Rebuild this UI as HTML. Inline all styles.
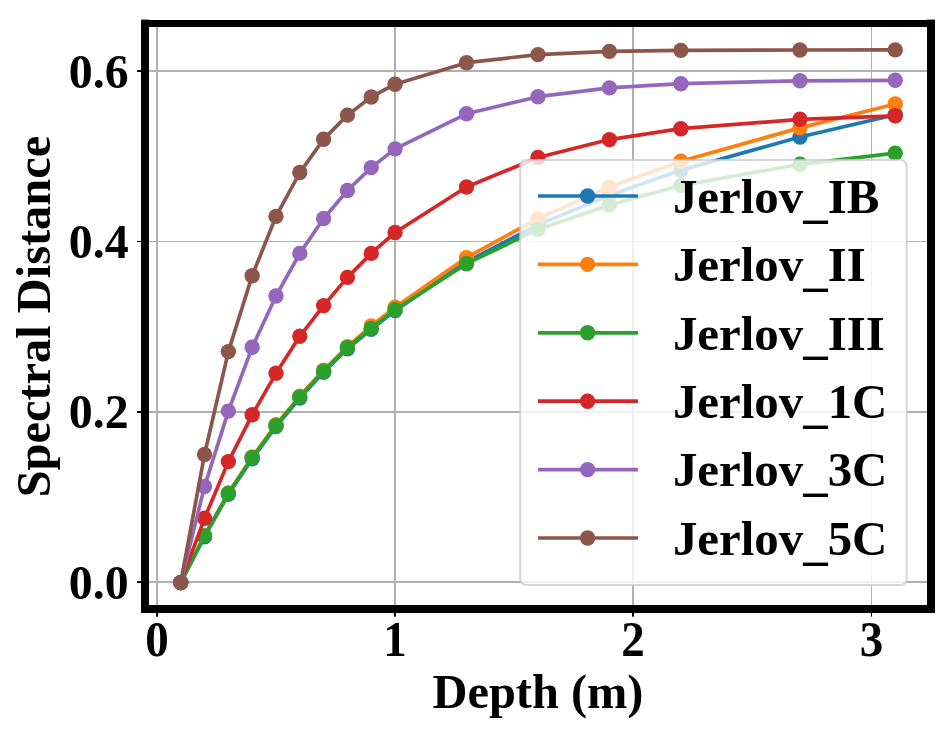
<!DOCTYPE html>
<html lang="en">
<head>
<meta charset="utf-8">
<title>Spectral Distance vs Depth</title>
<style>
html,body{margin:0;padding:0;background:#fff;}
body{width:947px;height:734px;overflow:hidden;}
svg{display:block;}
svg text{font-family:"Liberation Serif","Times New Roman",serif;font-weight:bold;fill:#000;}
</style>
</head>
<body>
<svg width="947" height="734" viewBox="0 0 947 734">
<rect x="0" y="0" width="947" height="734" fill="#ffffff"/>
<g fill="#b0b0b0">
<rect x="156" y="27" width="2" height="578"/>
<rect x="394" y="27" width="2" height="578"/>
<rect x="632" y="27" width="2" height="578"/>
<rect x="871" y="27" width="1" height="578"/>
<rect x="149" y="70" width="778" height="2"/>
<rect x="149" y="241" width="778" height="1"/>
<rect x="149" y="411" width="778" height="2"/>
<rect x="149" y="581" width="778" height="2"/>
</g>
<g fill="#000">
<rect x="156" y="612" width="2" height="4.7"/>
<rect x="394" y="612" width="2" height="4.7"/>
<rect x="632" y="612" width="2" height="4.7"/>
<rect x="871" y="612" width="1" height="4.7"/>
<rect x="137.1" y="70" width="5" height="2"/>
<rect x="137.1" y="241" width="5" height="1"/>
<rect x="137.1" y="411" width="5" height="2"/>
<rect x="137.1" y="581" width="5" height="2"/>
</g>
<clipPath id="ax"><rect x="145.0" y="23.4" width="786.0" height="585.4"/></clipPath>
<g clip-path="url(#ax)">
<polyline points="180.72,582.6 204.53,536.7 228.35,494.4 252.17,458.8 275.99,426.6 299.8,398.1 323.62,372.3 347.44,348.8 371.25,329.2 395.07,310.6 466.52,261.9 537.97,224.9 609.42,195.36 680.87,170.24 799.96,136.96 895.23,114.7" fill="none" stroke="#1f77b4" stroke-width="3.7" stroke-linejoin="round" stroke-linecap="butt"/>
<g fill="#1f77b4"><circle cx="180.72" cy="582.6" r="7.7"/><circle cx="204.53" cy="536.7" r="7.7"/><circle cx="228.35" cy="494.4" r="7.7"/><circle cx="252.17" cy="458.8" r="7.7"/><circle cx="275.99" cy="426.6" r="7.7"/><circle cx="299.8" cy="398.1" r="7.7"/><circle cx="323.62" cy="372.3" r="7.7"/><circle cx="347.44" cy="348.8" r="7.7"/><circle cx="371.25" cy="329.2" r="7.7"/><circle cx="395.07" cy="310.6" r="7.7"/><circle cx="466.52" cy="261.9" r="7.7"/><circle cx="537.97" cy="224.9" r="7.7"/><circle cx="609.42" cy="195.36" r="7.7"/><circle cx="680.87" cy="170.24" r="7.7"/><circle cx="799.96" cy="136.96" r="7.7"/><circle cx="895.23" cy="114.7" r="7.7"/></g>
<polyline points="180.72,582.6 204.53,535.4 228.35,492.9 252.17,457.0 275.99,424.6 299.8,396.1 323.62,370.1 347.44,346.6 371.25,326.0 395.07,307.3 466.52,257.6 537.97,218.6 609.42,187.09 680.87,161.27 799.96,127.9 895.23,104.0" fill="none" stroke="#ff7f0e" stroke-width="3.7" stroke-linejoin="round" stroke-linecap="butt"/>
<g fill="#ff7f0e"><circle cx="180.72" cy="582.6" r="7.7"/><circle cx="204.53" cy="535.4" r="7.7"/><circle cx="228.35" cy="492.9" r="7.7"/><circle cx="252.17" cy="457.0" r="7.7"/><circle cx="275.99" cy="424.6" r="7.7"/><circle cx="299.8" cy="396.1" r="7.7"/><circle cx="323.62" cy="370.1" r="7.7"/><circle cx="347.44" cy="346.6" r="7.7"/><circle cx="371.25" cy="326.0" r="7.7"/><circle cx="395.07" cy="307.3" r="7.7"/><circle cx="466.52" cy="257.6" r="7.7"/><circle cx="537.97" cy="218.6" r="7.7"/><circle cx="609.42" cy="187.09" r="7.7"/><circle cx="680.87" cy="161.27" r="7.7"/><circle cx="799.96" cy="127.9" r="7.7"/><circle cx="895.23" cy="104.0" r="7.7"/></g>
<polyline points="180.72,582.6 204.53,535.9 228.35,493.5 252.17,457.8 275.99,425.6 299.8,397.1 323.62,371.3 347.44,347.8 371.25,328.4 395.07,309.8 466.52,263.7 537.97,229.4 609.42,205.0 680.87,185.57 799.96,164.29 895.23,153.2" fill="none" stroke="#2ca02c" stroke-width="3.7" stroke-linejoin="round" stroke-linecap="butt"/>
<g fill="#2ca02c"><circle cx="180.72" cy="582.6" r="7.7"/><circle cx="204.53" cy="535.9" r="7.7"/><circle cx="228.35" cy="493.5" r="7.7"/><circle cx="252.17" cy="457.8" r="7.7"/><circle cx="275.99" cy="425.6" r="7.7"/><circle cx="299.8" cy="397.1" r="7.7"/><circle cx="323.62" cy="371.3" r="7.7"/><circle cx="347.44" cy="347.8" r="7.7"/><circle cx="371.25" cy="328.4" r="7.7"/><circle cx="395.07" cy="309.8" r="7.7"/><circle cx="466.52" cy="263.7" r="7.7"/><circle cx="537.97" cy="229.4" r="7.7"/><circle cx="609.42" cy="205.0" r="7.7"/><circle cx="680.87" cy="185.57" r="7.7"/><circle cx="799.96" cy="164.29" r="7.7"/><circle cx="895.23" cy="153.2" r="7.7"/></g>
<polyline points="180.72,582.6 204.53,518.3 228.35,461.6 252.17,414.8 275.99,373.3 299.8,336.3 323.62,305.6 347.44,277.4 371.25,253.4 395.07,232.5 466.52,186.99 537.97,157.54 609.42,139.58 680.87,128.7 799.96,119.3 895.23,115.8" fill="none" stroke="#d62728" stroke-width="3.7" stroke-linejoin="round" stroke-linecap="butt"/>
<g fill="#d62728"><circle cx="180.72" cy="582.6" r="7.7"/><circle cx="204.53" cy="518.3" r="7.7"/><circle cx="228.35" cy="461.6" r="7.7"/><circle cx="252.17" cy="414.8" r="7.7"/><circle cx="275.99" cy="373.3" r="7.7"/><circle cx="299.8" cy="336.3" r="7.7"/><circle cx="323.62" cy="305.6" r="7.7"/><circle cx="347.44" cy="277.4" r="7.7"/><circle cx="371.25" cy="253.4" r="7.7"/><circle cx="395.07" cy="232.5" r="7.7"/><circle cx="466.52" cy="186.99" r="7.7"/><circle cx="537.97" cy="157.54" r="7.7"/><circle cx="609.42" cy="139.58" r="7.7"/><circle cx="680.87" cy="128.7" r="7.7"/><circle cx="799.96" cy="119.3" r="7.7"/><circle cx="895.23" cy="115.8" r="7.7"/></g>
<polyline points="180.72,582.6 204.53,486.5 228.35,411.1 252.17,347.3 275.99,296.0 299.8,253.4 323.62,218.5 347.44,190.52 371.25,167.62 395.07,148.86 466.52,113.8 537.97,96.7 609.42,87.9 680.87,83.7 799.96,80.8 895.23,80.3" fill="none" stroke="#9467bd" stroke-width="3.7" stroke-linejoin="round" stroke-linecap="butt"/>
<g fill="#9467bd"><circle cx="180.72" cy="582.6" r="7.7"/><circle cx="204.53" cy="486.5" r="7.7"/><circle cx="228.35" cy="411.1" r="7.7"/><circle cx="252.17" cy="347.3" r="7.7"/><circle cx="275.99" cy="296.0" r="7.7"/><circle cx="299.8" cy="253.4" r="7.7"/><circle cx="323.62" cy="218.5" r="7.7"/><circle cx="347.44" cy="190.52" r="7.7"/><circle cx="371.25" cy="167.62" r="7.7"/><circle cx="395.07" cy="148.86" r="7.7"/><circle cx="466.52" cy="113.8" r="7.7"/><circle cx="537.97" cy="96.7" r="7.7"/><circle cx="609.42" cy="87.9" r="7.7"/><circle cx="680.87" cy="83.7" r="7.7"/><circle cx="799.96" cy="80.8" r="7.7"/><circle cx="895.23" cy="80.3" r="7.7"/></g>
<polyline points="180.72,582.6 204.53,454.5 228.35,351.6 252.17,275.7 275.99,216.4 299.8,172.56 323.62,139.28 347.44,115.1 371.25,97.0 395.07,84.2 466.52,62.7 537.97,54.6 609.42,51.4 680.87,50.4 799.96,50.0 895.23,49.9" fill="none" stroke="#8c564b" stroke-width="3.7" stroke-linejoin="round" stroke-linecap="butt"/>
<g fill="#8c564b"><circle cx="180.72" cy="582.6" r="7.7"/><circle cx="204.53" cy="454.5" r="7.7"/><circle cx="228.35" cy="351.6" r="7.7"/><circle cx="252.17" cy="275.7" r="7.7"/><circle cx="275.99" cy="216.4" r="7.7"/><circle cx="299.8" cy="172.56" r="7.7"/><circle cx="323.62" cy="139.28" r="7.7"/><circle cx="347.44" cy="115.1" r="7.7"/><circle cx="371.25" cy="97.0" r="7.7"/><circle cx="395.07" cy="84.2" r="7.7"/><circle cx="466.52" cy="62.7" r="7.7"/><circle cx="537.97" cy="54.6" r="7.7"/><circle cx="609.42" cy="51.4" r="7.7"/><circle cx="680.87" cy="50.4" r="7.7"/><circle cx="799.96" cy="50.0" r="7.7"/><circle cx="895.23" cy="49.9" r="7.7"/></g>
</g>
<rect x="520.2" y="160.1" width="386.5" height="424.9" rx="6" ry="6" fill="#ffffff" fill-opacity="0.8" stroke="#cccccc" stroke-opacity="0.8" stroke-width="2"/>
<line x1="538" y1="196.0" x2="638" y2="196.0" stroke="#1f77b4" stroke-width="3.7"/>
<circle cx="587.6" cy="196.0" r="7.7" fill="#1f77b4"/>
<text x="672.9" y="212.8" font-size="48.9">Jerlov<tspan dy="3.7">_</tspan><tspan dy="-3.7">IB</tspan></text>
<line x1="538" y1="264.4" x2="638" y2="264.4" stroke="#ff7f0e" stroke-width="3.7"/>
<circle cx="587.6" cy="264.4" r="7.7" fill="#ff7f0e"/>
<text x="672.9" y="281.2" font-size="48.9">Jerlov<tspan dy="3.7">_</tspan><tspan dy="-3.7">II</tspan></text>
<line x1="538" y1="332.8" x2="638" y2="332.8" stroke="#2ca02c" stroke-width="3.7"/>
<circle cx="587.6" cy="332.8" r="7.7" fill="#2ca02c"/>
<text x="672.9" y="349.6" font-size="48.9">Jerlov<tspan dy="3.7">_</tspan><tspan dy="-3.7">III</tspan></text>
<line x1="538" y1="401.2" x2="638" y2="401.2" stroke="#d62728" stroke-width="3.7"/>
<circle cx="587.6" cy="401.2" r="7.7" fill="#d62728"/>
<text x="672.9" y="418.0" font-size="48.9">Jerlov<tspan dy="3.7">_</tspan><tspan dy="-3.7">1C</tspan></text>
<line x1="538" y1="469.6" x2="638" y2="469.6" stroke="#9467bd" stroke-width="3.7"/>
<circle cx="587.6" cy="469.6" r="7.7" fill="#9467bd"/>
<text x="672.9" y="486.4" font-size="48.9">Jerlov<tspan dy="3.7">_</tspan><tspan dy="-3.7">3C</tspan></text>
<line x1="538" y1="538.0" x2="638" y2="538.0" stroke="#8c564b" stroke-width="3.7"/>
<circle cx="587.6" cy="538.0" r="7.7" fill="#8c564b"/>
<text x="672.9" y="554.8" font-size="48.9">Jerlov<tspan dy="3.7">_</tspan><tspan dy="-3.7">5C</tspan></text>
<g fill="#000"><rect x="141" y="19.6" width="8" height="593.4"/><rect x="927" y="19.6" width="8" height="593.4"/><rect x="141" y="20" width="794" height="7"/><rect x="141" y="605" width="794" height="8"/></g>
<text transform="translate(68.8,87.5) scale(0.965,1)" font-size="49.6">0.6</text>
<text transform="translate(68.8,257.8) scale(0.965,1)" font-size="49.6">0.4</text>
<text transform="translate(68.8,428.2) scale(0.965,1)" font-size="49.6">0.2</text>
<text transform="translate(68.8,598.5) scale(0.965,1)" font-size="49.6">0.0</text>
<text transform="translate(157,655.8) scale(0.94,1)" font-size="50" text-anchor="middle">0</text>
<text transform="translate(395,655.8) scale(0.94,1)" font-size="50" text-anchor="middle">1</text>
<text transform="translate(633,655.8) scale(0.94,1)" font-size="50" text-anchor="middle">2</text>
<text transform="translate(871.5,655.8) scale(0.94,1)" font-size="50" text-anchor="middle">3</text>
<text x="538" y="708" font-size="48.4" text-anchor="middle">Depth (m)</text>
<text transform="translate(49.7,316.6) rotate(-90)" font-size="48.4" text-anchor="middle">Spectral Distance</text>
</svg>
</body>
</html>
